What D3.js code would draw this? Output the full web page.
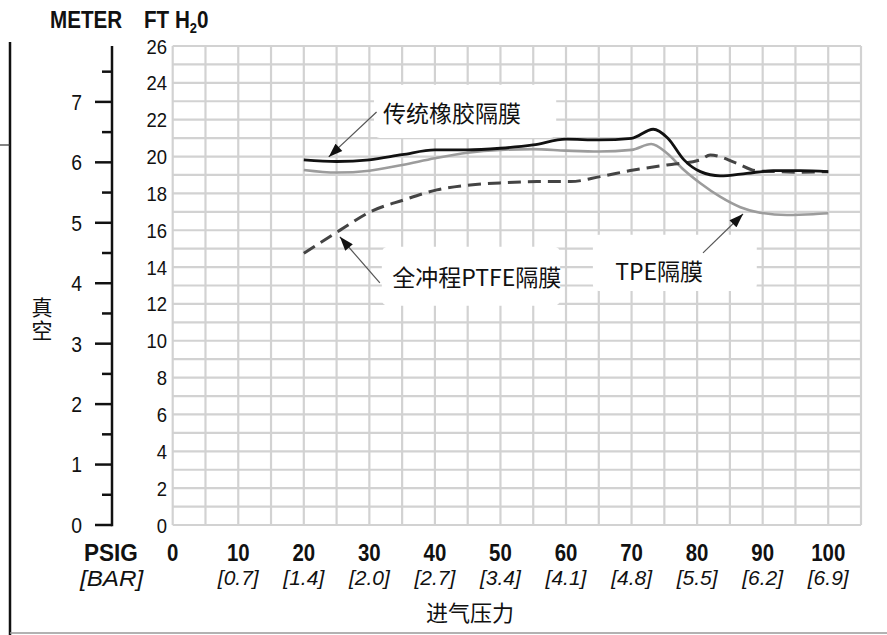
<!DOCTYPE html>
<html>
<head>
<meta charset="utf-8">
<script src="https://cdn.jsdelivr.net/npm/d3@7"></script>
<style>
  body { margin: 0; background: #fff; }
  svg { display: block; }
  .num { font-family: "Liberation Sans", Arial, sans-serif; fill: #111; }
  .cjk { font-family: "Noto Sans CJK SC", "Noto Sans", sans-serif; fill: #111; }
</style>
</head>
<body>
<div id="scene"></div>
<script>
// x axis: inlet pressure
var psiTicks = [0, 10, 20, 30, 40, 50, 60, 70, 80, 90, 100];
var barLabels = ["", "[0.7]", "[1.4]", "[2.0]", "[2.7]", "[3.4]", "[4.1]", "[4.8]", "[5.5]", "[6.2]", "[6.9]"];
// y axes: vacuum
var ftTicks = [0, 2, 4, 6, 8, 10, 12, 14, 16, 18, 20, 22, 24, 26];
var meterTicks = [0, 1, 2, 3, 4, 5, 6, 7];
var meterMinor = [0.5, 1.5, 2.5, 3.5, 4.5, 5.5, 6.5, 7.5];

// curves (psi, ft H2O)
var rubberPsi = [20, 25, 30, 35, 40, 45, 50, 55, 60, 65, 70, 73.3, 75.5, 78, 80.5, 83.5, 87.6, 91.6, 95.7, 100];
var rubberFt = [19.82, 19.73, 19.82, 20.1, 20.36, 20.36, 20.45, 20.63, 20.94, 20.9, 20.99, 21.48, 21.01, 19.82, 19.18, 18.95, 19.09, 19.23, 19.23, 19.18];

var tpePsi = [20, 25, 30, 35, 40, 45, 50, 55, 60, 65, 70, 73, 75.4, 78, 80.5, 83.5, 86.6, 89.6, 93.7, 97.7, 100];
var tpeFt = [19.27, 19.13, 19.23, 19.54, 19.91, 20.21, 20.36, 20.4, 20.32, 20.27, 20.36, 20.68, 20.18, 19.27, 18.55, 17.82, 17.25, 16.95, 16.83, 16.87, 16.92];

var ptfePsi = [20, 25.6, 30.2, 35.2, 40.3, 45.4, 50.5, 55.6, 60.7, 65.2, 70.3, 75.4, 80.5, 82, 86, 89, 92, 96, 100];
var ptfeFt = [14.75, 16.02, 17.01, 17.64, 18.19, 18.46, 18.58, 18.64, 18.64, 18.91, 19.27, 19.54, 19.82, 20.09, 19.64, 19.23, 19.18, 19.15, 19.18];

// callouts: label, box [psi0, psi1, ft0, ft1], text anchor, arrow tail -> head
var callouts = [
  { text: "传统橡胶隔膜", box: [30.7, 58.5, 21.0, 23.9], at: [32.1, 21.85], tail: [31.1, 22.42], head: [23.8, 19.98] },
  { text: "全冲程PTFE隔膜", box: [31.9, 59.1, 11.9, 15.1], at: [33.5, 13.0], tail: [31.6, 13.14], head: [25.5, 15.64] },
  { text: "TPE隔膜", box: [64.1, 89.1, 12.7, 15.75], at: [67.5, 13.3], tail: [80.9, 14.77], head: [87.0, 16.88] }
];

var FT_PER_M = 3.28084;

var ctx = { w: 887, h: 635 };

var svg = d3.select("#scene").append("svg")
  .attr("width", ctx.w)
  .attr("height", ctx.h);

var x = d3.scaleLinear().domain([0, 105]).range([172.7, 861]);
var y = d3.scaleLinear().domain([0, 26]).range([525, 46]);
var ym = function (m) { return y(m * FT_PER_M); };

// condensed-looking text: squeeze the regular face horizontally
var narrow = function (sel, px, py, sx) {
  return sel.attr("transform", "translate(" + px + "," + py + ") scale(" + sx + ",1)");
};

// frame pieces at the left and bottom
svg.append("line").attr("x1", 10).attr("x2", 10).attr("y1", 42).attr("y2", 635)
  .attr("stroke", "#111").attr("stroke-width", 2.5);
svg.append("line").attr("x1", 0).attr("x2", 10).attr("y1", 145).attr("y2", 145)
  .attr("stroke", "#333").attr("stroke-width", 1.2);
svg.append("line").attr("x1", 10).attr("x2", ctx.w).attr("y1", 633).attr("y2", 633)
  .attr("stroke", "#999").attr("stroke-width", 1.5);

// grid
var grid = svg.append("g").attr("stroke", "#d2d2d2").attr("stroke-width", 2.2);
grid.selectAll(".gv").data(d3.range(0, 106, 5)).enter().append("line")
  .attr("x1", function (d) { return x(d); }).attr("x2", function (d) { return x(d); })
  .attr("y1", y(0)).attr("y2", y(26));
grid.selectAll(".gh").data(d3.range(0, 27, 1)).enter().append("line")
  .attr("x1", x(0)).attr("x2", x(105))
  .attr("y1", function (d) { return y(d); }).attr("y2", function (d) { return y(d); });

// callout boxes cover the grid
svg.selectAll(".box").data(callouts).enter().append("rect")
  .attr("x", function (d) { return x(d.box[0]); })
  .attr("y", function (d) { return y(d.box[3]); })
  .attr("width", function (d) { return x(d.box[1]) - x(d.box[0]); })
  .attr("height", function (d) { return y(d.box[2]) - y(d.box[3]); })
  .attr("rx", 6)
  .attr("fill", "#fff");

// ft tick labels
svg.selectAll(".ft").data(ftTicks).enter().append("text")
  .attr("class", "num")
  .attr("transform", function (d) { return "translate(167," + y(d) + ") scale(0.88,1)"; })
  .attr("dy", "0.36em")
  .attr("text-anchor", "end")
  .style("font-size", "21px")
  .text(function (d) { return d; });

// meter axis
var mAxis = svg.append("g").attr("stroke", "#111").attr("stroke-width", 2.5);
mAxis.append("line").attr("x1", 112).attr("x2", 112).attr("y1", y(26)).attr("y2", y(0) + 1.2);
mAxis.selectAll(".mj").data(meterTicks).enter().append("line")
  .attr("x1", 95).attr("x2", 112)
  .attr("y1", function (d) { return ym(d); }).attr("y2", function (d) { return ym(d); });
mAxis.selectAll(".mn").data(meterMinor).enter().append("line")
  .attr("x1", 102).attr("x2", 112)
  .attr("y1", function (d) { return ym(d); }).attr("y2", function (d) { return ym(d); });

svg.selectAll(".mt").data(meterTicks).enter().append("text")
  .attr("class", "num")
  .attr("transform", function (d) { return "translate(82," + ym(d) + ") scale(0.88,1)"; })
  .attr("dy", "0.36em")
  .attr("text-anchor", "end")
  .style("font-size", "22px")
  .text(function (d) { return d; });

// headers
narrow(svg.append("text").attr("class", "num"), 50, 28, 0.86)
  .style("font-size", "24px").style("font-weight", "bold")
  .text("METER");
var fth = narrow(svg.append("text").attr("class", "num"), 144, 28, 0.86)
  .style("font-size", "24px").style("font-weight", "bold");
fth.append("tspan").text("FT H");
fth.append("tspan").attr("dy", 5).style("font-size", "15px").text("2");
fth.append("tspan").attr("dy", -5).text("0");

// vertical axis title
svg.append("text").attr("class", "cjk")
  .attr("x", 42).attr("y", 297)
  .style("writing-mode", "vertical-rl")
  .style("font-size", "21px")
  .attr("letter-spacing", 2)
  .text("真空");

// x labels
svg.selectAll(".psi").data(psiTicks).enter().append("text")
  .attr("class", "num")
  .attr("transform", function (d) { return "translate(" + x(d) + ",561) scale(0.85,1)"; })
  .attr("text-anchor", "middle")
  .style("font-size", "24px").style("font-weight", "bold")
  .text(function (d) { return d; });
svg.selectAll(".bar").data(barLabels).enter().append("text")
  .attr("class", "num")
  .attr("x", function (d, i) { return x(psiTicks[i]); })
  .attr("y", 585)
  .attr("text-anchor", "middle")
  .style("font-size", "21px").style("font-style", "italic")
  .text(function (d) { return d; });
narrow(svg.append("text").attr("class", "num"), 84, 561, 0.98)
  .style("font-size", "23px").style("font-weight", "bold")
  .text("PSIG");
narrow(svg.append("text").attr("class", "num"), 80, 586, 1.1)
  .style("font-size", "22px").style("font-style", "italic")
  .text("[BAR]");
svg.append("text").attr("class", "cjk")
  .attr("x", 470).attr("y", 621)
  .attr("text-anchor", "middle")
  .style("font-size", "22px")
  .text("进气压力");

// curves
var line = d3.line()
  .x(function (d) { return x(d[0]); })
  .y(function (d) { return y(d[1]); })
  .curve(d3.curveMonotoneX);

var series = [
  { psi: tpePsi, ft: tpeFt, color: "#9c9c9c", width: 2.6, dash: null },
  { psi: ptfePsi, ft: ptfeFt, color: "#444", width: 3, dash: "13,7" },
  { psi: rubberPsi, ft: rubberFt, color: "#111", width: 2.8, dash: null }
];

series.forEach(function (s) {
  var pts = s.psi.map(function (p, i) { return [p, s.ft[i]]; });
  svg.append("path")
    .attr("d", line(pts))
    .attr("fill", "none")
    .attr("stroke", s.color)
    .attr("stroke-width", s.width)
    .attr("stroke-dasharray", s.dash);
});

// arrows
svg.append("defs").append("marker")
  .attr("id", "head")
  .attr("markerUnits", "userSpaceOnUse")
  .attr("viewBox", "0 0 14 10")
  .attr("refX", 14).attr("refY", 5)
  .attr("markerWidth", 15).attr("markerHeight", 10)
  .attr("orient", "auto")
  .append("path")
  .attr("d", "M0,0 L14,5 L0,10 Z")
  .attr("fill", "#111");

svg.selectAll(".arrow").data(callouts).enter().append("line")
  .attr("x1", function (d) { return x(d.tail[0]); })
  .attr("y1", function (d) { return y(d.tail[1]); })
  .attr("x2", function (d) { return x(d.head[0]); })
  .attr("y2", function (d) { return y(d.head[1]); })
  .attr("stroke", "#555")
  .attr("stroke-width", 1.2)
  .attr("marker-end", "url(#head)");

svg.selectAll(".lab").data(callouts).enter().append("text")
  .attr("class", "cjk")
  .attr("x", function (d) { return x(d.at[0]); })
  .attr("y", function (d) { return y(d.at[1]); })
  .style("font-size", "23px")
  .text(function (d) { return d.text; });
</script>
</body>
</html>
